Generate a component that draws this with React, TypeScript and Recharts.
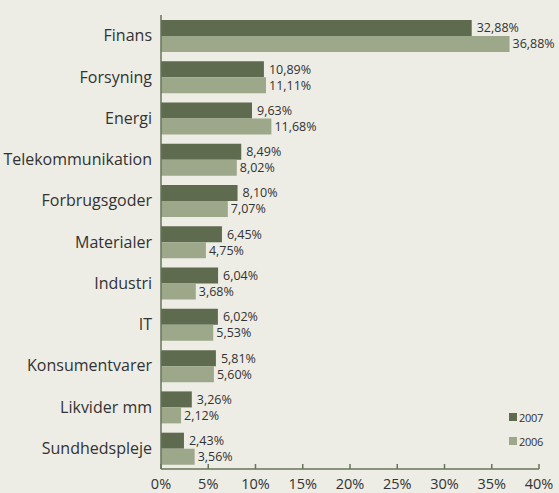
import { Bar, BarChart, LabelList, Legend, XAxis, YAxis } from "recharts";

const sectors = [
  "Finans",
  "Forsyning",
  "Energi",
  "Telekommunikation",
  "Forbrugsgoder",
  "Materialer",
  "Industri",
  "IT",
  "Konsumentvarer",
  "Likvider mm",
  "Sundhedspleje",
];
const share2007 = [32.88, 10.89, 9.63, 8.49, 8.1, 6.45, 6.04, 6.02, 5.81, 3.26, 2.43];
const share2006 = [36.88, 11.11, 11.68, 8.02, 7.07, 4.75, 3.68, 5.53, 5.6, 2.12, 3.56];
const xTicks = [0, 5, 10, 15, 20, 25, 30, 35, 40];
const bandEdges = [0, 1, 2, 3, 4, 5, 6, 7, 8, 9, 10, 11];

const data = sectors.map((name, i) => ({
  name,
  y2007: share2007[i],
  y2006: share2006[i],
}));

const BG = "#edece5";
const DARK = "#5e6b4f";
const LIGHT = "#9da88a";
const AXIS = "#66745a";
const TEXT = "#333333";
const FONT = "'Open Sans', sans-serif";

const pct = (v: number) => `${v.toFixed(2).replace(".", ",")}%`;

const LegendBox = () => (
  <div style={{ fontFamily: FONT, fontSize: 11, color: TEXT, letterSpacing: -0.3 }}>
    {[
      { label: "2007", color: DARK },
      { label: "2006", color: LIGHT },
    ].map((item) => (
      <div key={item.label} style={{ display: "flex", alignItems: "center", height: 24 }}>
        <span style={{ width: 8, height: 8, background: item.color, marginRight: 2 }} />
        {item.label}
      </div>
    ))}
  </div>
);

export default function App() {
  return (
    <div
      style={{
        position: "absolute",
        left: 0,
        top: 0,
        width: 559,
        height: 493,
        background: BG,
      }}
    >
      <BarChart
        width={559}
        height={493}
        data={data}
        layout="vertical"
        margin={{ top: 15, right: 20, left: 0, bottom: 0 }}
        barCategoryGap="12%"
        barGap={0}
      >
        <XAxis
          type="number"
          domain={[0, 40]}
          ticks={xTicks}
          tickFormatter={(v) => `${v}%`}
          height={24}
          stroke={AXIS}
          strokeWidth={1.5}
          tickSize={-5}
          tickMargin={15}
          tick={{ fill: TEXT, fontSize: 14.5, fontFamily: FONT }}
          interval={0}
        />
        <YAxis
          yAxisId="b_cat"
          type="category"
          dataKey="name"
          width={156}
          axisLine={false}
          tickLine={false}
          tickSize={0}
          tickMargin={4}
          interval={0}
          tick={{ fill: TEXT, fontSize: 16, fontFamily: FONT }}
        />
        <YAxis
          yAxisId="a_edges"
          type="number"
          domain={[0, 11]}
          ticks={bandEdges}
          width={5}
          tickSize={5}
          stroke={AXIS}
          strokeWidth={1.5}
          tick={false}
          interval={0}
        />
        <Legend
          layout="vertical"
          align="center"
          verticalAlign="middle"
          content={<LegendBox />}
          wrapperStyle={{ left: 509, top: 405, width: "auto", height: "auto" }}
        />
        <Bar dataKey="y2007" name="2007" yAxisId="b_cat" fill={DARK} isAnimationActive={false}>
          <LabelList
            dataKey="y2007"
            position="right"
            offset={5}
            formatter={(v: number) => pct(v)}
            style={{ fill: TEXT, fontSize: 12.5, fontFamily: FONT }}
          />
        </Bar>
        <Bar dataKey="y2006" name="2006" yAxisId="b_cat" fill={LIGHT} isAnimationActive={false}>
          <LabelList
            dataKey="y2006"
            position="right"
            offset={3}
            formatter={(v: number) => pct(v)}
            style={{ fill: TEXT, fontSize: 12.5, fontFamily: FONT }}
          />
        </Bar>
      </BarChart>
    </div>
  );
}
